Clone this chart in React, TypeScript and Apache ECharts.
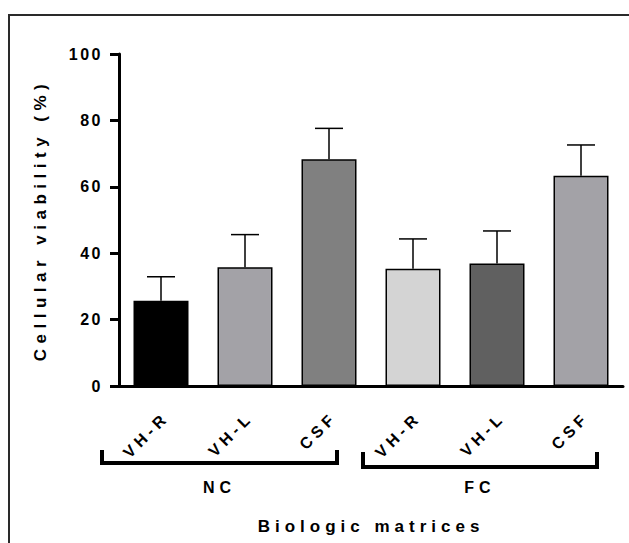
import React, { useEffect, useRef } from "react";
import * as echarts from "echarts";

const categories = ["VH-R", "VH-L", "CSF", "VH-R", "VH-L", "CSF"];
const groupNames = ["NC", "FC"];
const groupRanges = [
  [0, 2],
  [3, 5],
];
const means = [25.7, 35.8, 68.3, 35.3, 36.9, 63.3];
const errors = [7.2, 9.8, 9.3, 9.0, 9.8, 9.3];
const barColors = ["#000000", "#a3a2a7", "#808080", "#d4d4d4", "#606060", "#a3a2a7"];
const yTitle = "Cellular viability (%)";
const xTitle = "Biologic matrices";

const FONT = "'Liberation Sans', Arial, sans-serif";

function spacingFor(t: string): string | null {
  if (/^\d+$/.test(t)) return "2.5px";
  if (categories.indexOf(t) >= 0) return null;
  if (groupNames.indexOf(t) >= 0) return "5px";
  if (t === xTitle) return "5px";
  return "5.5px";
}

export default function App() {
  const ref = useRef<HTMLDivElement>(null);
  useEffect(() => {
    if (!ref.current) return;
    const el = ref.current;
    const chart = echarts.init(el, undefined, { renderer: "svg" });
    const option: any = {
      animation: false,
      backgroundColor: "#ffffff",
      grid: { left: 119, right: 6, top: 54, bottom: 157, containLabel: false },
      xAxis: {
        type: "category",
        data: categories,
        name: xTitle,
        nameLocation: "middle",
        nameGap: 132,
        nameTextStyle: { fontFamily: FONT, fontWeight: "bold", fontSize: 17, color: "#000" },
        axisLine: { lineStyle: { color: "#000", width: 3 } },
        axisTick: { alignWithLabel: true, length: 9, lineStyle: { color: "#000", width: 3 } },
        axisLabel: { show: false },
      },
      yAxis: {
        type: "value",
        min: 0,
        max: 100,
        interval: 20,
        name: yTitle,
        nameLocation: "middle",
        nameRotate: 90,
        nameGap: 70,
        nameTextStyle: { fontFamily: FONT, fontWeight: "bold", fontSize: 17, color: "#000" },
        axisLine: { show: true, lineStyle: { color: "#000", width: 3 } },
        axisTick: { show: true, length: 9, lineStyle: { color: "#000", width: 3 } },
        axisLabel: { margin: 16, fontFamily: FONT, fontWeight: "bold", fontSize: 16, color: "#000" },
        splitLine: { show: false },
      },
      series: [
        {
          type: "custom",
          z: 1,
          data: means.map((m, i) => [i, m, errors[i]]),
          renderItem: (params: any, api: any) => {
            const idx = api.value(0);
            const m = api.value(1);
            const e = api.value(2);
            const base = api.coord([idx, m]);
            const top = api.coord([idx, m + e]);
            const half = 14;
            return {
              type: "group",
              children: [
                {
                  type: "line",
                  shape: { x1: base[0], y1: base[1], x2: top[0], y2: top[1] },
                  style: { stroke: "#000", lineWidth: 1.5 },
                },
                {
                  type: "line",
                  shape: { x1: top[0] - half, y1: top[1], x2: top[0] + half, y2: top[1] },
                  style: { stroke: "#000", lineWidth: 1.5 },
                },
              ],
            };
          },
        },
        {
          type: "bar",
          z: 2,
          barWidth: 55,
          data: means.map((m, i) => ({
            value: m,
            itemStyle: { color: barColors[i], borderColor: "#000", borderWidth: 1.5 },
          })),
        },
      ],
    };
    chart.setOption(option);

    const cx = (i: number) => chart.convertToPixel({ xAxisIndex: 0 }, i) as number;
    const axisY = chart.convertToPixel({ yAxisIndex: 0 }, 0) as number;
    const bracketOffsets = [
      [-59, 8, 450, 463],
      [-50, 16, 452, 467],
    ];
    const graphics: any[] = [
      {
        type: "rect",
        shape: { x: 9, y: 15, width: 640, height: 560 },
        style: { fill: "none", stroke: "#2a2a2a", lineWidth: 2 },
        silent: true,
      },
    ];
    categories.forEach((c, i) => {
      graphics.push({
        type: "text",
        x: cx(i) + 2,
        y: axisY + 32,
        rotation: Math.PI / 4,
        style: {
          text: c,
          fill: "#000",
          font: `bold 16px ${FONT}`,
          align: "right",
          verticalAlign: "middle",
        },
      });
    });
    groupRanges.forEach((r, g) => {
      const [lo, hi, yTop, yBar] = bracketOffsets[g];
      const x1 = cx(r[0]) + lo;
      const x2 = cx(r[1]) + hi;
      graphics.push({
        type: "polyline",
        shape: {
          points: [
            [x1, yTop],
            [x1, yBar],
            [x2, yBar],
            [x2, yTop],
          ],
        },
        style: { stroke: "#000", lineWidth: 4, fill: "none" },
      });
      graphics.push({
        type: "text",
        x: (x1 + x2) / 2,
        y: 487,
        style: {
          text: groupNames[g],
          fill: "#000",
          font: `bold 16px ${FONT}`,
          align: "center",
          verticalAlign: "middle",
        },
      });
    });
    chart.setOption({ graphic: graphics });

    const applySpacing = () => {
      el.querySelectorAll("text").forEach((t) => {
        const txt = (t.textContent || "").trim();
        const s = spacingFor(txt);
        if (s) {
          t.setAttribute("letter-spacing", s);
        } else if (categories.indexOf(txt) >= 0) {
          const dx = Array.from(txt).map((_, k) => (k === 0 ? "0" : "4.5"));
          t.setAttribute("dx", dx.join(" "));
        }
      });
    };
    chart.on("finished", applySpacing);
    applySpacing();
    const timer = setTimeout(applySpacing, 50);

    return () => {
      clearTimeout(timer);
      chart.dispose();
    };
  }, []);
  return (
    <div
      ref={ref}
      style={{ position: "fixed", left: 0, top: 0, width: 629, height: 543 }}
    />
  );
}
